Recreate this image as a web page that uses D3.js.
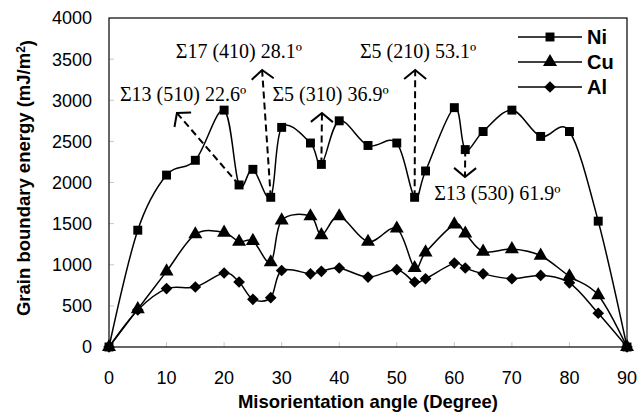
<!DOCTYPE html>
<html>
<head>
<meta charset="utf-8">
<script src="https://cdn.jsdelivr.net/npm/d3@7"></script>
<style>
  body { margin: 0; background: #fff; }
  svg { display: block; }
  .tick-label { font-family: "Liberation Sans", Arial, sans-serif; font-size: 18px; fill: #000; }
  .axis-title { font-family: "Liberation Sans", Arial, sans-serif; font-size: 18.5px; font-weight: bold; fill: #000; }
  .note { font-family: "Liberation Serif", "Times New Roman", serif; font-size: 20px; fill: #000; }
  .legend-label { font-family: "Liberation Sans", Arial, sans-serif; font-size: 20px; font-weight: bold; fill: #000; }
</style>
</head>
<body>
<div id="chart"></div>
<script>
// misorientation angles (degree)
var angles = [0, 5, 10, 15, 20, 22.6, 25, 28.1, 30, 35, 36.9, 40, 45, 50, 53.1, 55, 60, 61.9, 65, 70, 75, 80, 85, 90];

// grain boundary energy (mJ/m2)
var ni = [0, 1420, 2090, 2270, 2880, 1970, 2160, 1820, 2670, 2480, 2220, 2750, 2450, 2480, 1820, 2140, 2910, 2400, 2620, 2880, 2560, 2620, 1530, 0];
var cu = [0, 460, 920, 1370, 1390, 1280, 1290, 1030, 1540, 1590, 1360, 1590, 1280, 1440, 960, 1150, 1490, 1380, 1160, 1190, 1110, 860, 630, 0];
var al = [0, 450, 710, 730, 900, 790, 580, 600, 930, 890, 920, 960, 850, 940, 790, 830, 1020, 960, 890, 830, 870, 780, 410, 0];

var seriesNames = ["Ni", "Cu", "Al"];
var xTicks = [0, 10, 20, 30, 40, 50, 60, 70, 80, 90];
var yTicks = [0, 500, 1000, 1500, 2000, 2500, 3000, 3500, 4000];

// special boundaries: label, point on Ni curve, arrow tip, text start (data units)
var noteLabels = ["Σ13 (510) 22.6º", "Σ17 (410) 28.1º", "Σ5 (310) 36.9º", "Σ5 (210) 53.1º", "Σ13 (530) 61.9º"];
var noteAngles = [22.6, 28.1, 36.9, 53.1, 61.9];
var noteTips = [[11.8, 2845], [26.6, 3368], [37.0, 2845], [53.2, 3368], [61.85, 2067]];
var noteText = [[1.9, 2985], [11.6, 3514], [28.4, 2985], [43.6, 3514], [56.5, 1787]];

// dimensions
var W = 638, H = 414;
var margin = {top: 18, right: 11, bottom: 67, left: 109};
var width = W - margin.left - margin.right,
    height = H - margin.top - margin.bottom;

var svg = d3.select("#chart").append("svg")
    .attr("width", W)
    .attr("height", H);

// open arrow head for the dashed pointers
var defs = svg.append("defs");
defs.append("marker")
    .attr("id", "chevron")
    .attr("markerUnits", "userSpaceOnUse")
    .attr("viewBox", "-12 -12 14 24")
    .attr("markerWidth", 14)
    .attr("markerHeight", 24)
    .attr("refX", 0)
    .attr("refY", 0)
    .attr("orient", "auto")
  .append("path")
    .attr("d", "M-9,-11L0,0L-9,11")
    .attr("fill", "none")
    .attr("stroke", "#000")
    .attr("stroke-width", 2);

var g = svg.append("g")
    .attr("transform", "translate(" + margin.left + "," + margin.top + ")");

// scales
var x = d3.scaleLinear().domain([0, 90]).range([0, width]);
var y = d3.scaleLinear().domain([0, 4000]).range([height, 0]);

// inner tick marks (light grey)
g.selectAll(".ytick").data(yTicks.slice(1, -1)).enter().append("line")
    .attr("x1", 0).attr("x2", 5)
    .attr("y1", function(d) { return y(d); })
    .attr("y2", function(d) { return y(d); })
    .attr("stroke", "#c8c8c8").attr("stroke-width", 1);

g.selectAll(".xtick").data(xTicks.slice(1, -1)).enter().append("line")
    .attr("x1", function(d) { return x(d); })
    .attr("x2", function(d) { return x(d); })
    .attr("y1", height).attr("y2", height - 5)
    .attr("stroke", "#c8c8c8").attr("stroke-width", 1);

// frame
g.append("rect")
    .attr("width", width).attr("height", height)
    .attr("fill", "none").attr("stroke", "#000").attr("stroke-width", 1.2);

// tick labels
g.selectAll(".ylab").data(yTicks).enter().append("text")
    .attr("class", "tick-label")
    .attr("x", -17)
    .attr("y", function(d) { return y(d); })
    .attr("dy", "0.36em")
    .attr("text-anchor", "end")
    .text(function(d) { return d; });

g.selectAll(".xlab").data(xTicks).enter().append("text")
    .attr("class", "tick-label")
    .attr("x", function(d) { return x(d); })
    .attr("y", height + 37)
    .attr("text-anchor", "middle")
    .text(function(d) { return d; });

// axis titles
svg.append("text")
    .attr("class", "axis-title")
    .attr("x", margin.left + width / 2)
    .attr("y", 408)
    .attr("text-anchor", "middle")
    .text("Misorientation angle (Degree)");

var yt = svg.append("text")
    .attr("class", "axis-title")
    .attr("transform", "translate(30,178) rotate(-90)")
    .attr("text-anchor", "middle");
yt.append("tspan").text("Grain boundary energy (mJ/m");
yt.append("tspan").attr("dy", "-0.45em").style("font-size", "12px").text("2");
yt.append("tspan").attr("dy", "0.45em").text(")");

// annotation arrows
var notes = noteLabels.map(function(l, i) {
    return {label: l, from: [noteAngles[i], ni[angles.indexOf(noteAngles[i])]], tip: noteTips[i], text: noteText[i]};
});

g.selectAll(".note-line").data(notes).enter().append("line")
    .attr("x1", function(d) { return x(d.from[0]); })
    .attr("y1", function(d) { return y(d.from[1]); })
    .attr("x2", function(d) { return x(d.tip[0]); })
    .attr("y2", function(d) { return y(d.tip[1]); })
    .attr("stroke", "#000")
    .attr("stroke-width", 2)
    .attr("stroke-dasharray", "7,4")
    .attr("marker-end", "url(#chevron)");

g.selectAll(".note").data(notes).enter().append("text")
    .attr("class", "note")
    .attr("x", function(d) { return x(d.text[0]); })
    .attr("y", function(d) { return y(d.text[1]); })
    .text(function(d) { return d.label; });

// series lines
var series = [ni, cu, al].map(function(vals, i) {
    return {name: seriesNames[i], values: vals.map(function(v, j) { return [angles[j], v]; })};
});

var line = d3.line()
    .x(function(d) { return x(d[0]); })
    .y(function(d) { return y(d[1]); })
    .curve(d3.curveCatmullRom.alpha(0));

g.selectAll(".series").data(series).enter().append("path")
    .attr("d", function(d) { return line(d.values); })
    .attr("fill", "none")
    .attr("stroke", "#000")
    .attr("stroke-width", 1.5);

// markers: square, triangle, diamond (square turned 45 deg)
var symbols = [d3.symbolSquare, d3.symbolTriangle, d3.symbolSquare];
var symSizes = [80, 85, 68];
var symRotate = [0, 0, 45];

function markerTransform(i, px, py) {
    return "translate(" + px + "," + py + ") rotate(" + symRotate[i] + ")";
}

series.forEach(function(s, i) {
    g.selectAll(".m" + i).data(s.values).enter().append("path")
        .attr("transform", function(d) { return markerTransform(i, x(d[0]), y(d[1])); })
        .attr("d", d3.symbol().type(symbols[i]).size(symSizes[i]))
        .attr("fill", "#000");
});

// legend
var legend = svg.append("g").attr("transform", "translate(518,37)");
seriesNames.forEach(function(name, i) {
    var row = legend.append("g").attr("transform", "translate(0," + (i * 25) + ")");
    row.append("line").attr("x1", 0).attr("x2", 64)
        .attr("stroke", "#000").attr("stroke-width", 1.5);
    row.append("path")
        .attr("transform", markerTransform(i, 32, 0))
        .attr("d", d3.symbol().type(symbols[i]).size(symSizes[i]))
        .attr("fill", "#000");
    row.append("text").attr("class", "legend-label")
        .attr("x", 69).attr("dy", "0.36em")
        .text(name);
});
</script>
</body>
</html>
